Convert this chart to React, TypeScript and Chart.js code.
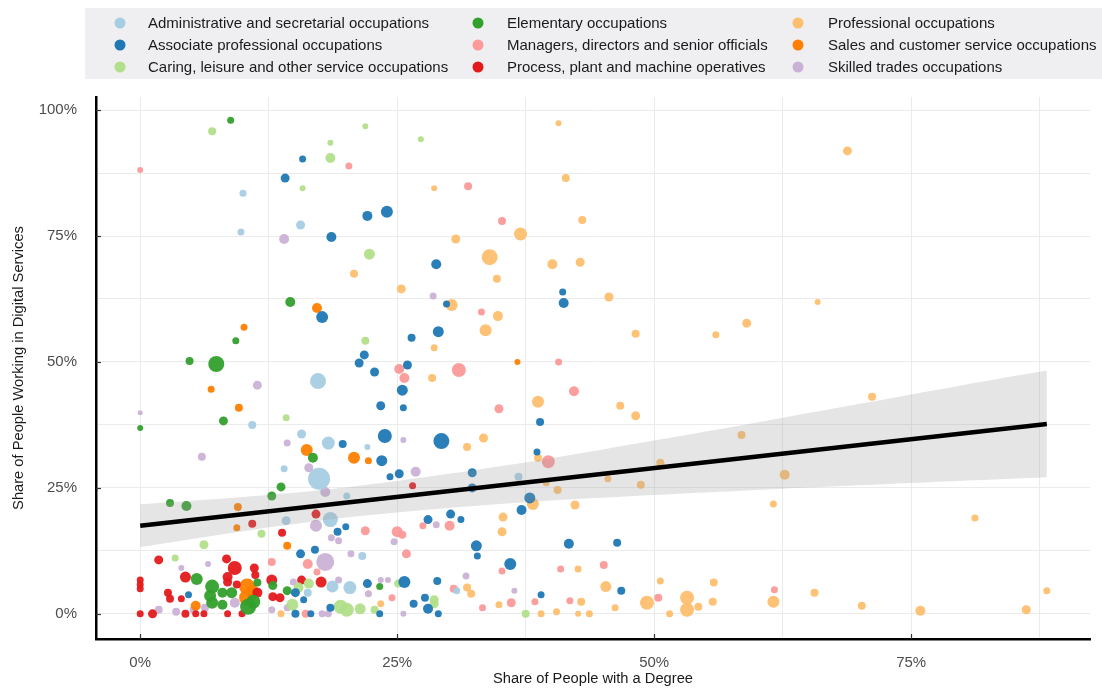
import React, { useEffect, useRef } from "react";
import { Chart, registerables } from "chart.js";

Chart.register(...registerables);

// ---- Data: [share with degree %, share in digital services %, bubble size] ----
const categories = [
  "Administrative and secretarial occupations",
  "Associate professional occupations",
  "Caring, leisure and other service occupations",
  "Elementary occupations",
  "Managers, directors and senior officials",
  "Process, plant and machine operatives",
  "Professional occupations",
  "Sales and customer service occupations",
  "Skilled trades occupations",
];

const categoryColors = [
  "#a6cee3", "#1f78b4", "#b2df8a", "#33a02c", "#fb9a99",
  "#e31a1c", "#fdbf6f", "#ff7f00", "#cab2d6",
];

const admin = [
  [10.0, 83.5, 3.5], [15.6, 77.2, 4.5], [9.8, 75.8, 3.5], [10.9, 37.5, 4], [15.7, 35.7, 4.5],
  [14.0, 28.8, 3.5], [17.3, 46.2, 8], [18.3, 33.9, 6.5], [22.1, 33.1, 3], [17.4, 26.8, 11],
  [20.1, 23.4, 3.5], [14.2, 18.5, 4.5], [18.5, 18.7, 7.5], [21.6, 11.5, 4], [18.7, 5.4, 6],
  [20.4, 5.2, 6.5], [16.3, 4.2, 4], [36.8, 27.2, 4], [30.8, 4.6, 3.5],
];

const associate = [
  [15.8, 90.3, 3.5], [14.1, 86.5, 4.5], [24.0, 79.8, 6], [22.1, 79.0, 5], [18.6, 74.8, 5],
  [28.8, 69.4, 5], [29.8, 61.5, 3.5], [41.1, 63.9, 3.5], [41.2, 61.7, 5], [17.7, 58.9, 6],
  [29.0, 56.0, 5.5], [26.4, 54.8, 4], [21.8, 51.4, 4.5], [21.3, 49.8, 4.5], [22.8, 48.0, 4.5],
  [26.0, 49.4, 4.5], [25.5, 44.4, 5.5], [23.4, 41.3, 4.5], [25.6, 40.9, 3.5], [23.8, 35.3, 7],
  [19.7, 33.7, 4], [23.5, 30.4, 5.5], [24.3, 27.2, 3.5], [25.2, 27.8, 4.5], [38.9, 38.1, 4],
  [29.3, 34.3, 8], [38.6, 32.1, 3.5], [32.3, 28.0, 4.5], [32.3, 25.0, 4.5], [37.9, 23.0, 5.5],
  [37.1, 20.6, 5], [30.2, 19.8, 4.5], [28.0, 18.7, 4.5], [31.2, 18.7, 3.5], [32.7, 13.5, 5.5],
  [32.8, 11.5, 3.5], [41.7, 13.9, 5], [46.4, 14.1, 4], [36.0, 9.9, 6], [28.9, 6.5, 4],
  [46.8, 4.6, 4], [27.7, 3.2, 4], [28.0, 1.0, 5], [29.0, 0, 3.5], [39.0, 3.8, 3.5],
  [20.0, 17.3, 3.5], [19.2, 16.3, 4], [15.6, 11.9, 4.5], [17.0, 12.7, 4], [22.1, 6.0, 4.5],
  [25.7, 6.3, 6], [26.6, 2.0, 4], [15.9, 2.8, 3.5], [15.1, 0, 4], [16.6, 0, 3.5],
  [23.3, 0, 3.5], [18.5, 1.2, 4], [4.7, 3.8, 3.5], [15.1, 4.2, 4.5],
];

const caring = [
  [7.0, 95.8, 4], [15.8, 84.5, 3], [21.9, 96.8, 3], [18.5, 93.5, 3], [18.5, 90.5, 5],
  [27.3, 94.2, 3], [22.3, 71.4, 5.5], [21.9, 54.2, 4], [14.2, 38.9, 3.5], [11.8, 15.9, 4],
  [6.2, 13.7, 4.5], [3.4, 11.1, 3.5], [16.4, 6.0, 5], [15.4, 5.2, 5], [25.1, 6.0, 4],
  [14.8, 1.8, 6], [19.5, 1.4, 7], [20.1, 0.8, 7], [21.4, 1.0, 5.5], [22.8, 0.8, 4],
  [28.6, 2.8, 4.5], [28.6, 2.0, 4.5], [37.5, 0, 4],
];

const elementary = [
  [8.8, 98.0, 3.5], [14.6, 61.9, 5], [9.3, 54.2, 3.5], [4.8, 50.2, 4], [7.4, 49.6, 8],
  [8.1, 38.3, 4.5], [0, 36.9, 3], [16.8, 31.0, 5], [13.7, 25.2, 4.5], [12.8, 23.4, 4.5],
  [2.9, 22.0, 4], [4.5, 21.4, 5], [5.5, 6.9, 6], [7.0, 5.4, 7], [6.8, 3.6, 6],
  [8.0, 4.2, 5], [8.9, 4.2, 5.5], [7.0, 2.2, 6], [8.0, 1.8, 5], [10.5, 1.4, 8],
  [11.0, 2.4, 7], [11.4, 6.2, 4], [12.9, 5.6, 4.5], [14.3, 4.6, 4.5], [23.3, 5.4, 3.5],
];

const managers = [
  [0, 88.1, 3], [20.3, 88.9, 3.5], [31.9, 84.9, 4], [35.2, 78.0, 4], [33.2, 59.9, 3.5],
  [25.2, 48.6, 5], [25.7, 46.8, 5], [31.0, 48.4, 7], [40.7, 50.0, 3.5], [42.2, 44.2, 5],
  [34.9, 40.7, 4.5], [39.7, 30.2, 6.5], [30.1, 17.5, 5], [27.5, 17.5, 3.5], [21.9, 16.5, 4.5],
  [25.0, 16.3, 5.5], [25.5, 15.7, 4], [25.9, 11.9, 4.5], [12.8, 10.3, 4], [16.3, 9.9, 5],
  [17.2, 8.3, 3.5], [35.2, 8.5, 3.5], [40.9, 8.9, 3.5], [45.1, 9.7, 4], [30.5, 5.0, 4],
  [24.5, 3.2, 3.5], [33.3, 1.2, 3.5], [36.1, 2.2, 4.5], [38.4, 2.4, 3.5], [41.8, 2.6, 3.5],
  [50.4, 3.2, 4], [61.7, 4.8, 3.5], [16.1, 0, 4],
];

const process = [
  [26.5, 25.4, 3.5], [17.1, 19.8, 4.5], [10.9, 17.9, 4], [13.8, 16.1, 4], [1.8, 10.7, 4.5],
  [8.4, 10.9, 4.5], [9.2, 9.1, 7], [11.1, 9.1, 4.5], [11.2, 7.7, 4], [4.4, 7.3, 5.5],
  [8.5, 7.3, 5], [8.5, 6.3, 4.5], [9.4, 5.8, 4], [0, 6.7, 3.5], [0, 5.8, 3.5],
  [0, 5.0, 3.5], [2.7, 4.2, 4], [2.9, 3.0, 4], [4.0, 3.0, 3.5], [12.8, 6.7, 5.5],
  [12.9, 3.4, 4.5], [13.6, 3.2, 4.5], [15.7, 6.7, 4.5], [17.6, 6.3, 5.5], [0, 0, 3.5],
  [1.2, 0, 4.5], [4.4, 0, 4], [5.4, 0, 3.5], [6.2, 0, 3.5], [8.5, 0, 3.5],
  [9.9, 0, 3.5], [11.4, 4.2, 5],
];

const professional = [
  [40.7, 97.4, 3], [68.8, 91.9, 4.5], [28.6, 84.5, 3], [41.4, 86.5, 4], [43.0, 78.2, 4],
  [37.0, 75.4, 6.5], [30.7, 74.4, 4.5], [34.0, 70.8, 8], [40.1, 69.4, 5], [42.8, 69.8, 4.5],
  [34.7, 66.5, 4], [20.8, 67.5, 4], [25.4, 64.5, 4.5], [30.3, 61.3, 6], [45.6, 62.9, 4.5],
  [65.9, 61.9, 3], [34.8, 59.1, 5], [33.6, 56.3, 6], [48.2, 55.6, 4], [56.0, 55.4, 3.5],
  [59.0, 57.7, 4.5], [28.6, 52.8, 3.5], [28.4, 46.8, 4], [38.7, 42.1, 6], [46.7, 41.3, 4],
  [48.2, 39.3, 4.5], [71.2, 43.1, 4], [58.5, 35.5, 4], [31.8, 33.1, 4], [33.4, 34.9, 4.5],
  [38.7, 31.0, 4], [50.6, 30.0, 4], [62.7, 27.6, 5], [39.5, 26.0, 3.5], [40.6, 24.6, 4],
  [45.5, 26.8, 3.5], [48.7, 25.6, 4], [38.2, 21.8, 6], [42.3, 21.6, 4.5], [61.6, 21.8, 3.5],
  [81.2, 19.0, 3.5], [35.3, 19.2, 4.5], [35.2, 16.3, 4.5], [42.6, 8.9, 3.5], [50.6, 6.5, 3.5],
  [31.8, 5.2, 4], [32.2, 4.0, 4], [45.3, 5.4, 5.5], [34.9, 1.8, 3.5], [42.9, 2.4, 4],
  [46.2, 1.2, 3.5], [39.0, 0, 3.5], [40.5, 0.4, 3.5], [42.6, 0, 3], [43.7, 0, 3.5],
  [49.3, 2.2, 7], [51.5, 0, 3.5], [53.2, 3.2, 7], [53.2, 0.8, 7], [54.3, 1.4, 4],
  [55.8, 6.2, 4], [55.7, 2.4, 4], [61.6, 2.4, 6], [65.6, 4.2, 4], [70.2, 1.6, 4],
  [75.9, 0.6, 5], [86.2, 0.8, 4.5], [88.2, 4.6, 3.5], [13.7, 0, 3.5], [23.4, 2.0, 3.5],
];

const sales = [
  [10.1, 56.9, 3.5], [6.9, 44.6, 3.5], [9.6, 40.9, 4], [17.2, 60.7, 5], [16.2, 32.5, 6],
  [20.8, 31.0, 6], [22.2, 30.4, 3.5], [36.7, 50.0, 3], [9.5, 21.2, 4], [9.4, 17.1, 3.5],
  [14.3, 13.5, 4], [5.4, 1.6, 5], [10.4, 5.4, 8], [10.4, 3.2, 8], [10.9, 4.4, 7],
];

const skilled = [
  [14.0, 74.4, 5], [11.4, 45.4, 4.5], [0, 39.9, 2.5], [14.3, 33.9, 3.5], [6.0, 31.2, 4],
  [28.5, 63.1, 3.5], [25.6, 34.5, 3], [16.4, 29.0, 4.5], [18.0, 24.2, 5], [26.8, 28.2, 5],
  [17.1, 17.5, 6], [18.6, 15.1, 3.5], [19.3, 14.5, 3.5], [24.7, 14.3, 3.5], [18.0, 10.3, 9],
  [20.5, 11.9, 3.5], [14.9, 6.3, 3.5], [19.3, 6.7, 3.5], [23.4, 6.7, 3], [24.1, 6.7, 3],
  [22.2, 4.0, 3.5], [12.8, 0.8, 3.5], [14.3, 1.2, 3.5], [17.7, 0, 3.5], [18.3, 0, 3.5],
  [25.6, 0, 3], [28.8, 17.7, 3.5], [31.7, 7.5, 3.5], [36.4, 4.6, 3], [4.0, 9.1, 3],
  [6.6, 9.9, 3], [9.2, 2.2, 5], [1.8, 0.8, 4], [3.5, 0.4, 4], [5.2, 0.8, 4], [6.3, 1.2, 4],
];

const seriesData = [admin, associate, caring, elementary, managers, process, professional, sales, skilled];

// Linear fit and its confidence band
const trendX = [0, 88.2];
const trendY = [17.5, 37.7];
const bandX = [0, 10, 20, 30, 40, 50, 60, 70, 80, 88.2];
const bandUpper = [21.75, 23.2, 25.1, 27.8, 30.9, 34.4, 38.0, 41.7, 45.4, 48.3];
const bandLower = [13.25, 16.4, 19.1, 21.0, 22.5, 23.6, 24.6, 25.5, 26.4, 27.1];

// Axis breaks
const xBreaks = [0, 12.5, 25, 37.5, 50, 62.5, 75, 87.5];
const yBreaks = [0, 12.5, 25, 37.5, 50, 62.5, 75, 87.5, 100];
const xLabelled = [0, 25, 50, 75];
const yLabelled = [0, 25, 50, 75, 100];

const FONT = "'Liberation Sans', Arial, sans-serif";

function hexA(hex: string, a: number) {
  const n = parseInt(hex.slice(1), 16);
  return `rgba(${(n >> 16) & 255},${(n >> 8) & 255},${n & 255},${a})`;
}

const legendPlugin = {
  id: "gridLegend",
  afterDraw(chart: any) {
    const ctx = chart.ctx as CanvasRenderingContext2D;
    ctx.save();
    // legend box
    ctx.fillStyle = "#efeff1";
    ctx.fillRect(85, 8, 1102 - 85, 71);
    const colMarker = [120, 478, 798];
    const colText = [148, 507, 828];
    const rowY = [23, 45, 67];
    const items = chart.data.datasets.filter((d: any) => d.isCategory);
    items.forEach((d: any, i: number) => {
      const col = Math.floor(i / 3);
      const row = i % 3;
      ctx.fillStyle = d.legendColor;
      ctx.beginPath();
      ctx.arc(colMarker[col], rowY[row], 5.5, 0, Math.PI * 2);
      ctx.fill();
      ctx.fillStyle = "#1a1a1a";
      ctx.font = `15px ${FONT}`;
      ctx.textBaseline = "middle";
      ctx.textAlign = "left";
      ctx.fillText(d.label, colText[col], rowY[row] + 1);
    });
    // inward tick marks on labelled breaks
    const xs = chart.scales.x;
    const ys = chart.scales.y;
    const area = chart.chartArea;
    ctx.strokeStyle = "#333";
    ctx.lineWidth = 1.2;
    xLabelled.forEach((v) => {
      const px = Math.round(xs.getPixelForValue(v)) + 0.5;
      ctx.beginPath();
      ctx.moveTo(px, area.bottom);
      ctx.lineTo(px, area.bottom - 5);
      ctx.stroke();
    });
    yLabelled.forEach((v) => {
      const py = Math.round(ys.getPixelForValue(v)) + 0.5;
      ctx.beginPath();
      ctx.moveTo(area.left, py);
      ctx.lineTo(area.left + 5, py);
      ctx.stroke();
    });
    ctx.restore();
  },
};

export default function App() {
  const ref = useRef<HTMLCanvasElement | null>(null);

  useEffect(() => {
    document.body.style.margin = "0";
    const canvas = ref.current;
    if (!canvas) return;

    const bubbleSets = categories.map((label, i) => ({
      type: "bubble" as const,
      label,
      isCategory: true,
      legendColor: categoryColors[i],
      data: seriesData[i].map((p) => ({ x: p[0], y: p[1], r: p[2] })),
      backgroundColor: hexA(categoryColors[i], 0.95),
      borderWidth: 0,
      order: 10,
    }));

    const chart = new Chart(canvas, {
      type: "bubble",
      data: {
        datasets: [
          {
            type: "line",
            label: "fit",
            data: trendX.map((x, i) => ({ x, y: trendY[i] })),
            borderColor: "#000",
            borderWidth: 4.5,
            pointRadius: 0,
            fill: false,
            order: 0,
          } as any,
          {
            type: "line",
            label: "upper",
            data: bandX.map((x, i) => ({ x, y: bandUpper[i] })),
            borderWidth: 0,
            borderColor: "rgba(0,0,0,0)",
            pointRadius: 0,
            fill: false,
            tension: 0.3,
            order: 1,
          } as any,
          {
            type: "line",
            label: "lower",
            data: bandX.map((x, i) => ({ x, y: bandLower[i] })),
            borderWidth: 0,
            borderColor: "rgba(0,0,0,0)",
            backgroundColor: "rgba(153,153,153,0.25)",
            pointRadius: 0,
            fill: "-1",
            tension: 0.3,
            order: 1,
          } as any,
          ...bubbleSets,
        ],
      },
      options: {
        animation: false,
        responsive: false,
        devicePixelRatio: 1,
        layout: { padding: { top: 97, right: 12, left: 0, bottom: 0 } },
        plugins: {
          legend: { display: false },
          tooltip: { enabled: false },
        },
        scales: {
          x: {
            type: "linear",
            min: -4.3,
            max: 92.4,
            afterFit: (s: any) => {
              s.height = 50;
            },
            afterBuildTicks: (s: any) => {
              s.ticks = xBreaks.map((v) => ({ value: v }));
            },
            grid: { color: "#ebebeb", lineWidth: 1, drawTicks: false },
            border: { display: true, color: "#000", width: 2.5 },
            ticks: {
              autoSkip: false,
              maxRotation: 0,
              padding: 15,
              color: "#4d4d4d",
              font: { family: FONT, size: 15 },
              callback: (v: any) => (xLabelled.includes(Number(v)) ? `${v}%` : ""),
            },
            title: {
              display: true,
              text: "Share of People with a Degree",
              color: "#1a1a1a",
              font: { family: FONT, size: 14.7 },
              padding: { top: 0, bottom: 1 },
            },
          },
          y: {
            type: "linear",
            min: -5,
            max: 102.6,
            afterFit: (s: any) => {
              s.width = 96;
            },
            afterBuildTicks: (s: any) => {
              s.ticks = yBreaks.map((v) => ({ value: v }));
            },
            grid: { color: "#ebebeb", lineWidth: 1, drawTicks: false },
            border: { display: true, color: "#000", width: 2.5 },
            ticks: {
              autoSkip: false,
              padding: 19,
              color: "#4d4d4d",
              font: { family: FONT, size: 15 },
              callback: (v: any) => (yLabelled.includes(Number(v)) ? `${v}%` : ""),
            },
            title: {
              display: true,
              text: "Share of People Working in Digital Services",
              color: "#1a1a1a",
              font: { family: FONT, size: 14.7 },
              padding: { top: 10, bottom: 0 },
            },
          },
        },
      },
      plugins: [legendPlugin],
    });

    return () => chart.destroy();
  }, []);

  return (
    <div style={{ width: 1102, height: 689, position: "relative" }}>
      <canvas ref={ref} width={1102} height={689} style={{ display: "block" }} />
    </div>
  );
}
